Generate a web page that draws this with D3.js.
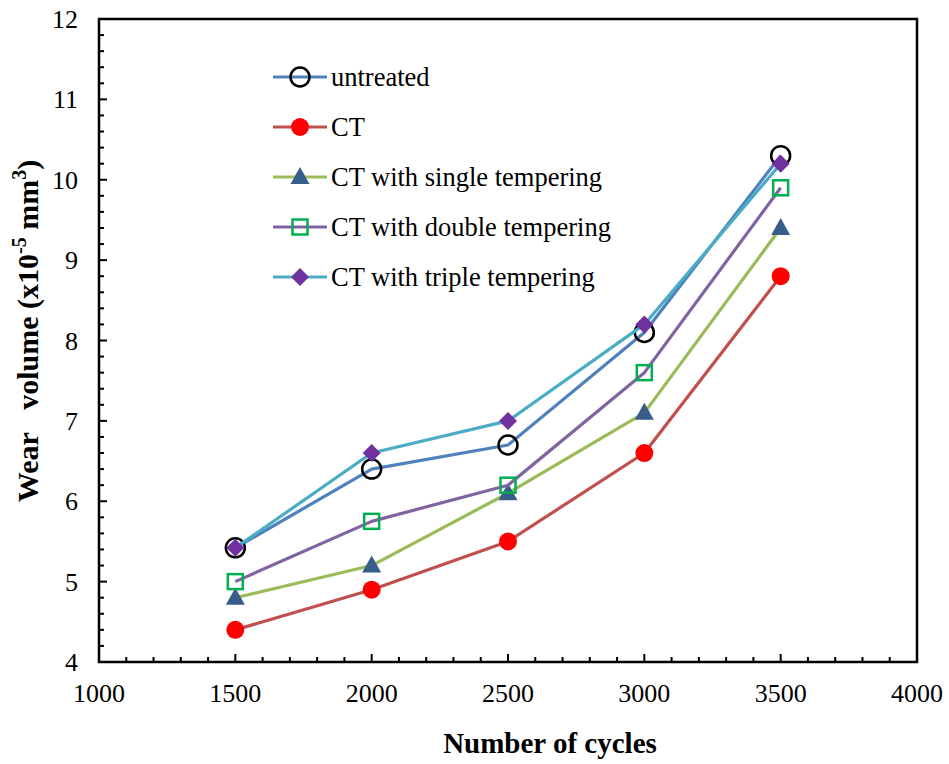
<!DOCTYPE html>
<html><head><meta charset="utf-8">
<script src="https://cdn.jsdelivr.net/npm/d3@7"></script>
<style>body{margin:0;background:#fff}svg{display:block}</style>
</head><body>
<svg id="c" width="949" height="764" font-family="Liberation Serif"></svg>
<script>
const cycles = [1500, 2000, 2500, 3000, 3500];
const untreated = [5.42, 6.4, 6.7, 8.1, 10.3];
const ct = [4.4, 4.9, 5.5, 6.6, 8.8];
const ctSingle = [4.8, 5.2, 6.1, 7.1, 9.4];
const ctDouble = [5.0, 5.75, 6.2, 7.6, 9.9];
const ctTriple = [5.42, 6.6, 7.0, 8.2, 10.2];
const xTicks = [1000, 1500, 2000, 2500, 3000, 3500, 4000];
const yTicks = [4, 5, 6, 7, 8, 9, 10, 11, 12];
const seriesNames = ["untreated", "CT", "CT with single tempering", "CT with double tempering", "CT with triple tempering"];

const series = [
  {name: seriesNames[0], values: untreated, line: "#4F81BD", marker: "circle"},
  {name: seriesNames[1], values: ct, line: "#C0504D", marker: "dot"},
  {name: seriesNames[2], values: ctSingle, line: "#9BBB59", marker: "triangle"},
  {name: seriesNames[3], values: ctDouble, line: "#8064A2", marker: "square"},
  {name: seriesNames[4], values: ctTriple, line: "#4BACC6", marker: "diamond"}
];

const FONT = "Liberation Serif";
const svg = d3.select("#c");
const L = 99, R = 917, T = 19, B = 662;
const x = d3.scaleLinear().domain([1000, 4000]).range([L, R]);
const y = d3.scaleLinear().domain([4, 12]).range([B, T]);

function txt(sel) {
  return sel.attr("font-family", FONT).style("font-family", "'Liberation Serif', 'Times New Roman', serif").attr("fill", "#000");
}

const gMinor = svg.append("g");
d3.range(1000, 4001, 100).forEach(v => {
  gMinor.append("line").attr("x1", x(v)).attr("x2", x(v)).attr("y1", B).attr("y2", B - (v % 500 === 0 ? 8 : 5)).attr("stroke", "#000").attr("stroke-width", 2);
});
d3.range(40, 121, 2).forEach(k => {
  const v = k / 10;
  gMinor.append("line").attr("x1", L).attr("x2", L + (k % 10 === 0 ? 8 : 5)).attr("y1", y(v)).attr("y2", y(v)).attr("stroke", "#000").attr("stroke-width", 2);
});

svg.append("rect").attr("x", L).attr("y", T).attr("width", R - L).attr("height", B - T).attr("fill", "none").attr("stroke", "#000").attr("stroke-width", 2.5);

txt(svg.append("g").selectAll("text").data(xTicks).join("text")
  .attr("x", d => x(d)).attr("y", 702).attr("text-anchor", "middle").attr("font-size", 26).text(d => d));
txt(svg.append("g").selectAll("text").data(yTicks).join("text")
  .attr("x", 78).attr("y", d => y(d) + 9).attr("text-anchor", "end").attr("font-size", 26).text(d => d));

txt(svg.append("text").attr("x", 550).attr("y", 753).attr("text-anchor", "middle").attr("font-size", 29).attr("font-weight", "bold").text("Number of cycles"));
const yt = txt(svg.append("text").attr("transform", "translate(38,331) rotate(-90)").attr("text-anchor", "middle").attr("font-size", 30).attr("font-weight", "bold"));
yt.append("tspan").text("Wear\u00a0\u00a0\u00a0volume (x10");
yt.append("tspan").attr("font-size", 20).attr("dy", -12).text("-5");
yt.append("tspan").attr("dy", 12).text(" mm");
yt.append("tspan").attr("font-size", 20).attr("dy", -12).text("3");
yt.append("tspan").attr("dy", 12).text(")");

function drawMarker(g, type, cx, cy) {
  if (type === "circle") {
    g.append("circle").attr("cx", cx).attr("cy", cy).attr("r", 9.5).attr("fill", "none").attr("stroke", "#000").attr("stroke-width", 2.5);
  } else if (type === "dot") {
    g.append("circle").attr("cx", cx).attr("cy", cy).attr("r", 9).attr("fill", "#FF0000");
  } else if (type === "triangle") {
    g.append("path").attr("d", `M${cx},${cy - 10}L${cx + 9.5},${cy + 7}L${cx - 9.5},${cy + 7}Z`).attr("fill", "#385D8A");
  } else if (type === "square") {
    g.append("rect").attr("x", cx - 7.5).attr("y", cy - 7.5).attr("width", 15).attr("height", 15).attr("fill", "none").attr("stroke", "#00B050").attr("stroke-width", 2.5);
  } else if (type === "diamond") {
    g.append("path").attr("d", `M${cx},${cy - 9}L${cx + 9},${cy}L${cx},${cy + 9}L${cx - 9},${cy}Z`).attr("fill", "#7030A0");
  }
}

const line = d3.line().x(d => x(d[0])).y(d => y(d[1])).curve(d3.curveLinear);
series.forEach(s => {
  const g = svg.append("g");
  const pts = cycles.map((c, i) => [c, s.values[i]]);
  g.append("path").datum(pts).attr("d", line).attr("fill", "none").attr("stroke", s.line).attr("stroke-width", 3.2).attr("stroke-linejoin", "round");
  pts.forEach(p => drawMarker(g, s.marker, x(p[0]), y(p[1])));
});

series.forEach((s, i) => {
  const cy = 77 + i * 50;
  const g = svg.append("g");
  g.append("line").attr("x1", 273).attr("x2", 327).attr("y1", cy).attr("y2", cy).attr("stroke", s.line).attr("stroke-width", 3.2);
  drawMarker(g, s.marker, 300, cy);
  txt(g.append("text").attr("x", 331).attr("y", cy + 9).attr("font-size", 26.5).text(s.name));
});
</script>
</body></html>
